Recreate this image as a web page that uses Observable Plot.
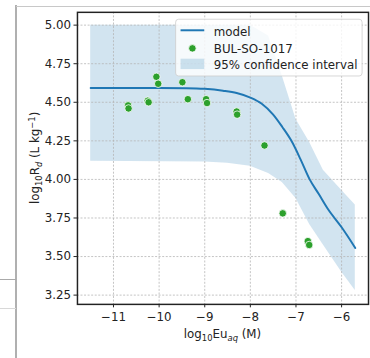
<!DOCTYPE html>
<html>
<head>
<meta charset="utf-8">
<script src="https://cdn.jsdelivr.net/npm/d3@7"></script>
<script src="https://cdn.jsdelivr.net/npm/@observablehq/plot@0.6"></script>
<style>
  html, body { margin: 0; padding: 0; background: white; width: 370px; height: 358px; overflow: hidden; }
  #chart { position: absolute; left: 0; top: 0; }
  .deco { position: absolute; z-index: 5; }
</style>
</head>
<body>
<div class="deco" style="left:15px;top:5px;width:1.6px;height:353px;background:#b0b0b0"></div>
<div class="deco" style="left:16px;top:5.5px;width:354px;height:1.2px;background:#c8c8c8"></div>
<div class="deco" style="left:0;top:278.7px;width:16px;height:1.3px;background:#aaaaaa"></div>
<div class="deco" style="left:0;top:307.8px;width:16px;height:1px;background:#d8d8d8"></div>
<div id="chart"></div>
<script>
// ---- data ----
const xTicks = [-11, -10, -9, -8, -7, -6];
const yTicks = [3.25, 3.5, 3.75, 4.0, 4.25, 4.5, 4.75, 5.0];

const obsX = [-10.68, -10.67, -10.25, -10.23, -10.06, -10.02, -9.49, -9.37, -8.97, -8.95, -8.30, -8.29, -7.69, -7.29, -6.74, -6.71];
const obsY = [4.48, 4.46, 4.51, 4.50, 4.665, 4.62, 4.63, 4.52, 4.52, 4.495, 4.44, 4.42, 4.22, 3.78, 3.60, 3.575];

const modelX = [-11.5, -10, -9.4, -9.0, -8.6, -8.3, -8.0, -7.75, -7.5, -7.3, -7.1, -6.9, -6.7, -6.5, -6.3, -6.0, -5.7];
const modelY = [4.592, 4.592, 4.591, 4.587, 4.575, 4.56, 4.53, 4.49, 4.42, 4.34, 4.25, 4.13, 4.00, 3.905, 3.808, 3.69, 3.556];

const bandX = [-11.5, -9.0, -8.5, -8.0, -7.6, -7.3, -7.0, -6.7, -6.4, -6.0, -5.7];
const bandHi = [5.0, 5.0, 5.0, 5.0, 4.93, 4.67, 4.39, 4.24, 4.06, 3.93, 3.835];
const bandLo = [4.117, 4.113, 4.105, 4.085, 4.038, 3.98, 3.876, 3.708, 3.575, 3.40, 3.28];

const legendLabels = ["model", "BUL-SO-1017", "95% confidence interval"];

// ---- tables ----
const obs = obsX.map((x, i) => ({x, y: obsY[i]}));
const model = modelX.map((x, i) => ({x, y: modelY[i]}));
const band = bandX.map((x, i) => ({x, lo: bandLo[i], hi: bandHi[i]}));

const blue = "#1f77b4", green = "#2ca02c";
const gridStyle = {stroke: "#b4b4b4", strokeOpacity: 1, strokeWidth: 0.8, strokeDasharray: "2,1.6"};

const plot = Plot.plot({
  width: 375,
  height: 358,
  marginLeft: 78,
  marginRight: 2,
  marginTop: 12,
  marginBottom: 50,
  style: {fontFamily: "DejaVu Sans", fontSize: "12px", color: "#222", background: "transparent", overflow: "visible"},
  x: {domain: [-11.79, -5.41]},
  y: {domain: [3.19, 5.083]},
  marks: [
    Plot.areaY(band, {x: "x", y1: "lo", y2: "hi", fill: blue, fillOpacity: 0.2, curve: "linear"}),
    Plot.gridX(xTicks, gridStyle),
    Plot.gridY(yTicks, gridStyle),
    Plot.line(model, {x: "x", y: "y", stroke: blue, strokeWidth: 2, curve: "monotone-x"}),
    Plot.dot(obs, {x: "x", y: "y", r: 3.8, fill: green, stroke: "white", strokeWidth: 0.8}),
    Plot.frame({stroke: "#222", strokeWidth: 1.5}),
    Plot.axisX(xTicks, {tickSize: 3.5, tickPadding: 5, label: null, fontSize: 12, stroke: "#222"}),
    Plot.axisY(yTicks, {tickSize: 3.5, tickPadding: 3, label: null, tickFormat: d3.format(".2f"), fontSize: 12, stroke: "#222"})
  ]
});
document.getElementById("chart").appendChild(plot);

const svg = d3.select(plot);

// x axis label
const xl = svg.append("text").attr("x", 225.5).attr("y", 343).attr("text-anchor", "middle")
  .attr("fill", "#222").style("font-size", "12px");
xl.append("tspan").text("log");
xl.append("tspan").attr("dy", 2.5).style("font-size", "8.5px").text("10");
xl.append("tspan").attr("dy", -2.5).text("Eu");
xl.append("tspan").attr("dy", 2.5).style("font-size", "8.5px").style("font-style", "italic").text("aq");
xl.append("tspan").attr("dy", -2.5).text(" (M)");

// y axis label
const yl = svg.append("text").attr("transform", "translate(40,160) rotate(-90)").attr("text-anchor", "middle")
  .attr("fill", "#222").style("font-size", "12px");
yl.append("tspan").text("log");
yl.append("tspan").attr("dy", 3).style("font-size", "8.5px").text("10");
yl.append("tspan").attr("dy", -3).text("R");
yl.append("tspan").attr("dy", 3).style("font-size", "8.5px").style("font-style", "italic").text("d");
yl.append("tspan").attr("dy", -3).text(" (L kg");
yl.append("tspan").attr("dy", -4.5).style("font-size", "8.5px").text("\u22121");
yl.append("tspan").attr("dy", 4.5).text(")");

// legend
const lg = svg.append("g").attr("text-anchor", "start");
lg.append("rect").attr("x", 178).attr("y", 19.5).attr("width", 189).attr("height", 57.5).attr("rx", 3)
  .attr("fill", "white").attr("fill-opacity", 0.8).attr("stroke", "#cccccc").attr("stroke-opacity", 0.8);
lg.append("line").attr("x1", 183).attr("x2", 207).attr("y1", 30.7).attr("y2", 30.7)
  .attr("stroke", blue).attr("stroke-width", 2);
lg.append("circle").attr("cx", 195).attr("cy", 49).attr("r", 3.8).attr("fill", green).attr("stroke", "white").attr("stroke-width", 0.8);
lg.append("rect").attr("x", 183).attr("y", 59.5).attr("width", 24).attr("height", 10.5).attr("fill", blue).attr("fill-opacity", 0.2);
[36, 53.3, 70].forEach((b, i) => {
  lg.append("text").attr("x", 216.7).attr("y", b).attr("text-anchor", "start").attr("fill", "#222")
    .style("font-size", "12px").text(legendLabels[i]);
});
</script>
</body>
</html>
